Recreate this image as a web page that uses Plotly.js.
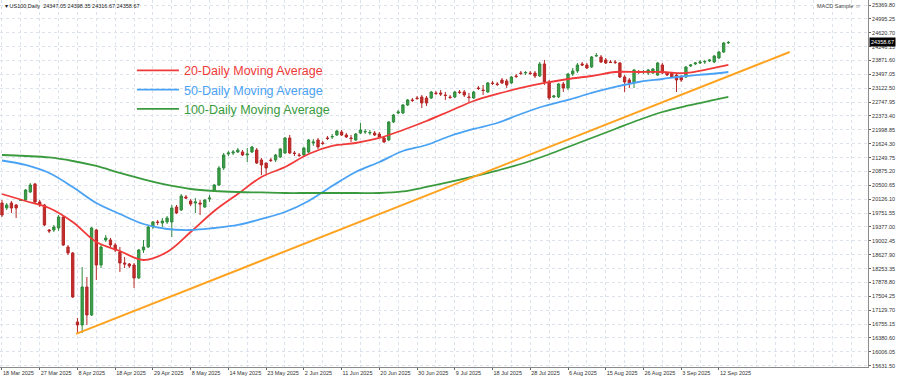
<!DOCTYPE html>
<html>
<head>
<meta charset="utf-8">
<script src="https://cdn.plot.ly/plotly-3.0.1.min.js"></script>
<style>html,body{margin:0;padding:0;background:#fff;}#chart{width:900px;height:377px;}</style>
</head>
<body>
<div id="chart"></div>
<script>
// ---- Data (US100, Daily) ----
const xTickLabels = ["18 Mar 2025","27 Mar 2025","8 Apr 2025","18 Apr 2025","29 Apr 2025","8 May 2025","14 May 2025","23 May 2025","2 Jun 2025","11 Jun 2025","20 Jun 2025","30 Jun 2025","9 Jul 2025","18 Jul 2025","28 Jul 2025","6 Aug 2025","15 Aug 2025","26 Aug 2025","3 Sep 2025","12 Sep 2025"];
const barsPerLabel = 8;

const openP = [20024,19889,20024,19970,20092,20105,20321,20537,20051,19970,
19295,19295,19349,19646,18836,18674,16811,16730,17756,17000,
19295,18350,19025,19025,18890,18701,18404,18377,18350,17999,
18755,18836,19376,19511,19484,19511,19511,19916,19835,20186,
20078,20024,20024,19916,20132,20375,20510,20969,21347,21374,
21401,21401,21320,21401,21455,21185,21104,21185,21185,21266,
21374,21779,21374,21320,21320,21401,21644,21725,21644,21779,
21806,21860,21941,21860,21779,21725,21914,21941,21914,21914,
21887,21779,21725,22211,22454,22454,22670,22805,22859,22886,
22859,22859,22994,22994,22940,22886,22886,23021,23021,22886,
22859,23129,23075,23021,23264,23237,23345,23318,23264,23453,
23534,23534,23534,23534,23453,23777,23291,22886,22886,23237,
23129,23507,23588,23777,23750,23696,23993,23966,23885,23831,
23831,23804,23426,23345,23264,23561,23561,23534,23534,23480,
23750,23534,23534,23480,23426,23426,23723,23777,23804,23831,
23858,23831,23939,24101,24347.05];

const highP = [20105,20024,20078,19997,20132,20402,20564,20564,20105,19997,
19322,19430,19700,19673,18890,18701,16919,18296,18026,19376,
19322,18890,19160,19079,18944,18836,18566,18404,18404,18782,
19025,19403,19538,19565,19619,19673,19970,19970,20267,20240,
20132,20159,20105,20132,20240,20537,21023,21374,21428,21455,
21509,21455,21509,21563,21509,21239,21104,21239,21347,21509,
21806,21860,21428,21374,21536,21752,21752,21779,21698,21833,
21887,21995,21995,21914,21860,21914,22184,22022,21995,21968,
21941,21833,22238,22427,22535,22697,22832,22859,22913,22940,
22913,23048,23048,23075,23021,22940,23048,23075,23075,22994,
23048,23183,23210,23291,23318,23291,23399,23372,23453,23507,
23588,23588,23588,23588,23831,23885,23345,22940,23264,23291,
23534,23669,23804,23831,23804,23993,24074,24020,23939,23885,
23885,23831,23480,23399,23642,23615,23615,23642,23669,23831,
23804,23561,23561,23534,23480,23723,23777,23831,23885,23885,
23912,24020,24128,24371,24398.35];

const lowP = [19646,19835,19754,19619,20078,20078,20294,20024,19916,19403,
19214,19241,19268,18863,18620,17459,16514,16514,16730,16973,
17945,18269,18971,18836,18701,18161,18269,18269,17729,17972,
18674,18809,19322,19430,19376,19457,19106,19727,19808,20132,
19943,19754,19700,19889,20051,20321,20483,20915,21293,21320,
21374,21293,21131,21374,21077,20780,20780,21131,21131,21239,
21347,21347,21293,21266,21266,21374,21563,21482,21590,21725,
21752,21833,21833,21779,21671,21698,21887,21887,21860,21833,
21779,21644,21698,22184,22427,22427,22643,22751,22805,22589,
22643,22832,22940,22913,22805,22832,22859,22967,22886,22751,
22832,23075,22940,22994,23210,23183,23237,23129,23237,23399,
23480,23480,23480,23399,23426,23210,22805,22859,22859,23021,
23075,23453,23534,23723,23642,23669,23966,23804,23777,23804,
23777,23399,23021,23129,23129,23507,23507,23480,23507,23453,
23507,23453,23399,23021,23291,23399,23696,23750,23777,23777,
23831,23804,23912,24074,24316.67];

const closeP = [19700,19970,19889,19889,20105,20375,20510,20051,19970,19430,
19268,19376,19646,18890,18674,17486,16730,17756,17000,19349,
18350,18836,19079,18890,18755,18404,18377,18323,17999,18755,
18836,19376,19511,19498,19538,19619,19889,19754,20213,20159,
19997,20051,19997,20105,20159,20510,20969,21320,21374,21401,
21455,21320,21347,21536,21104,21050,20969,21172,21320,21482,
21779,21374,21360,21306,21509,21725,21671,21536,21630,21766,
21820,21968,21860,21806,21766,21887,21995,21955,21928,21860,
21806,21671,22211,22400,22481,22670,22805,22792,22846,22724,
22724,23021,22981,22967,22927,22873,23021,23008,22940,22873,
23021,23116,23062,23264,23250,23224,23264,23210,23426,23440,
23520,23547,23520,23453,23777,23291,22859,22913,23237,23129,
23507,23588,23750,23750,23669,23966,24006,23831,23804,23818,
23818,23426,23291,23264,23615,23548,23574,23615,23642,23804,
23534,23480,23426,23345,23345,23696,23750,23804,23831,23844,
23885,23993,24101,24344,24358.67];

// moving averages, read at every 5th bar (bar index) and the last bar
const maBars = [0,5,10,15,20,25,30,35,40,45,50,55,60,65,70,75,80,85,90,95,100,105,110,115,120,125,130,135,140,145,150,154];
const ma20 = [20267,20078,19889,19511,18971,18728,18485,18701,19241,19808,20267,20726,20996,21347,21563,21644,21779,21995,22238,22508,22778,22967,23129,23264,23372,23453,23561,23561,23561,23534,23642,23750];
const ma50 = [21171,21050,20834,20456,20024,19727,19457,19322,19295,19349,19430,19592,19781,20078,20483,20861,21131,21428,21590,21833,22022,22184,22427,22643,22805,22994,23156,23291,23372,23453,23507,23561];
const ma100 = [21320,21293,21253,21158,21023,20834,20659,20510,20402,20348,20321,20308,20294,20294,20294,20294,20294,20335,20456,20591,20740,20901,21077,21293,21536,21779,22022,22265,22481,22643,22778,22886];

// trend line (support) drawn from the April low
const trendBars = [15.7, 167];
const trendVals = [16490, 24100];

const yTickText = ["25369.80","24995.25","24620.70","24246.15","23871.60","23497.05","23122.50","22747.95","22373.40","21998.85","21624.30","21249.75","20875.20","20500.65","20126.10","19751.55","19377.00","19002.45","18627.90","18253.35","17878.80","17504.25","17129.70","16755.15","16380.60","16006.05","15631.50"];

const titleText = "US100,Daily  24347.05 24398.35 24316.67 24358.67";
const lastPrice = closeP[closeP.length-1];

// ---- Build ----
const barX = openP.map((_, i) => i);
const xTickVals = xTickLabels.map((_, k) => k * barsPerLabel);
const yTickVals = yTickText.map(Number);

const gridC = '#dde3ec';
const traces = [
  {
    type: 'candlestick', x: barX, open: openP, high: highP, low: lowP, close: closeP,
    increasing: {line: {color: '#2f8a3c', width: 1}, fillcolor: '#3ba049'},
    decreasing: {line: {color: '#b52626', width: 1}, fillcolor: '#c52c2c'},
    showlegend: false, hoverinfo: 'skip'
  },
  {type: 'scatter', mode: 'lines', x: maBars, y: ma20, name: '<span style="color:#f03a3a">20-Daily Moving Average</span>',
   line: {color: '#f03a3a', width: 1.8, shape: 'spline', smoothing: 1}, hoverinfo: 'skip'},
  {type: 'scatter', mode: 'lines', x: maBars, y: ma50, name: '<span style="color:#4aa2f4">50-Daily Moving Average</span>',
   line: {color: '#4aa2f4', width: 1.8, shape: 'spline', smoothing: 1}, hoverinfo: 'skip'},
  {type: 'scatter', mode: 'lines', x: maBars, y: ma100, name: '<span style="color:#3a9a3e">100-Daily Moving Average</span>',
   line: {color: '#3a9a3e', width: 1.8, shape: 'spline', smoothing: 1}, hoverinfo: 'skip'},
  {type: 'scatter', mode: 'lines', x: trendBars, y: trendVals, showlegend: false,
   line: {color: '#ffa21f', width: 2}, hoverinfo: 'skip'}
];

const layout = {
  width: 900, height: 377,
  margin: {l: 0, r: 32, t: 0, b: 10, pad: 0},
  paper_bgcolor: '#ffffff', plot_bgcolor: '#ffffff',
  font: {family: 'Liberation Sans, Arial, sans-serif', color: '#333'},
  showlegend: true,
  legend: {x: 0.152, y: 0.848, xanchor: 'left', yanchor: 'top', bgcolor: 'rgba(0,0,0,0)',
           font: {family: 'Liberation Sans, Arial, sans-serif', size: 12.5}, tracegroupgap: 0, itemwidth: 42},
  xaxis: {
    range: [-0.42, 183.6], tickmode: 'array', tickvals: xTickVals, ticktext: xTickLabels,
    ticks: 'outside', ticklen: 2, tickcolor: '#666', ticklabelposition: 'outside right',
    tickangle: 0, automargin: false,
    tickfont: {size: 5.5, color: '#333'},
    showgrid: true, gridcolor: gridC, griddash: 'dot', gridwidth: 1,
    minor: {tickmode: 'linear', tick0: 0, dtick: 4, showgrid: true, gridcolor: gridC, griddash: 'dot', ticks: ''},
    showline: true, linecolor: '#8a8a8a', linewidth: 1, mirror: true, zeroline: false,
    rangeslider: {visible: false}, fixedrange: true
  },
  yaxis: {
    side: 'right', range: [15595.8, 25504.8], tickmode: 'array', tickvals: yTickVals, ticktext: yTickText,
    ticks: 'outside', ticklen: 2, tickcolor: '#666', tickfont: {size: 5.5, color: '#333'}, automargin: false,
    showgrid: true, gridcolor: gridC, griddash: 'dot', gridwidth: 1,
    showline: true, linecolor: '#8a8a8a', linewidth: 1, mirror: true, zeroline: false, fixedrange: true
  },
  annotations: [
    {xref: 'paper', yref: 'paper', x: 0.004, y: 0.998, xanchor: 'left', yanchor: 'top', showarrow: false,
     text: '▾ ' + titleText, font: {size: 5.5, color: '#222'}},
    {xref: 'paper', yref: 'paper', x: 0.994, y: 0.998, xanchor: 'right', yanchor: 'top', showarrow: false,
     text: 'MACD Sample ☺', font: {size: 5.5, color: '#444'}},
    {xref: 'paper', yref: 'y', x: 1, y: lastPrice, xanchor: 'left', yanchor: 'middle', xshift: 1, showarrow: false,
     text: lastPrice.toFixed(2), bgcolor: '#000000', font: {size: 5.5, color: '#ffffff'}, borderpad: 1}
  ]
};

Plotly.newPlot('chart', traces, layout, {displayModeBar: false, staticPlot: true});
</script>
</body>
</html>
